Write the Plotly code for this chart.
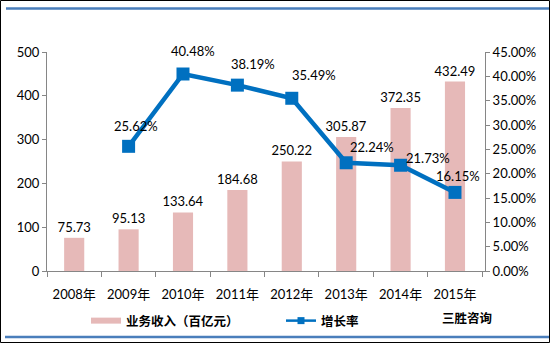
import plotly.graph_objects as go

years = ["2008年", "2009年", "2010年", "2011年", "2012年", "2013年", "2014年", "2015年"]
revenue = [75.73, 95.13, 133.64, 184.68, 250.22, 305.87, 372.35, 432.49]
growth_years = ["2009年", "2010年", "2011年", "2012年", "2013年", "2014年", "2015年"]
growth = [0.2562, 0.4048, 0.3819, 0.3549, 0.2224, 0.2173, 0.1615]

# label offsets (style) for the growth-rate labels, in px
label_dx = [7, 10, 16, 22, 26, 27, 3]
label_dy = [20, 23, 21, 23, 16, 7, 16]

W, H = 550, 343
L, R, T, B = 47, 65, 52, 72
pw, ph = W - L - R, H - T - B

def px_x(px):
    return (px - L) / pw

def px_y(py):
    return (H - B - py) / ph

FONT = "Lato, 'Noto Sans CJK SC', sans-serif"
CJK = "'Noto Sans CJK SC', sans-serif"
PINK = "#E6B9B8"
BLUE = "#0070C0"

fig = go.Figure()
fig.add_trace(go.Bar(
    x=years, y=revenue, name="业务收入（百亿元）", showlegend=False,
    marker=dict(color=PINK, line=dict(width=0)),
    text=[f"{v:.2f}" for v in revenue], textposition="outside",
    constraintext="none",
    textfont=dict(family=FONT, size=13, color="#000000"),
    cliponaxis=False, yaxis="y",
))
fig.add_trace(go.Scatter(
    x=growth_years, y=growth, name="增长率", mode="lines+markers", showlegend=False,
    line=dict(color=BLUE, width=4.5),
    marker=dict(symbol="square", size=13, color=BLUE),
    yaxis="y2", cliponaxis=False,
))
# legend-only entries (no data drawn)
fig.add_trace(go.Scatter(x=[None], y=[None], name="<b>业务收入（百亿元）</b>", mode="lines",
                         line=dict(color=PINK, width=6), yaxis="y"))
fig.add_trace(go.Scatter(x=[None], y=[None], name="<b>增长率</b>", mode="lines+markers",
                         line=dict(color=BLUE, width=2.5),
                         marker=dict(symbol="square", size=7, color=BLUE), yaxis="y2"))

for i, (x, g) in enumerate(zip(growth_years, growth)):
    fig.add_annotation(x=x, y=g, xref="x", yref="y2", text=f"{g*100:.2f}%",
                       showarrow=False, xshift=label_dx[i], yshift=label_dy[i],
                       font=dict(family=FONT, size=13, color="#000000"))

fig.add_annotation(x=px_x(467), y=px_y(317), xref="paper", yref="paper",
                   xanchor="center", yanchor="middle",
                   text="<b>三胜咨询</b>", showarrow=False,
                   font=dict(family=CJK, size=12.5, color="#000000"))

shapes = [
    dict(type="rect", xref="paper", yref="paper", x0=px_x(0.5), x1=px_x(549.5),
         y0=px_y(0.5), y1=px_y(342.5), line=dict(color="#000000", width=1), layer="above"),
    dict(type="line", xref="paper", yref="paper", x0=px_x(6), x1=px_x(549),
         y0=px_y(8.5), y1=px_y(8.5), line=dict(color="#4A7EBB", width=2.5)),
    dict(type="line", xref="paper", yref="paper", x0=px_x(5), x1=px_x(549),
         y0=px_y(337), y1=px_y(337), line=dict(color="#4A7EBB", width=2.5)),
]

fig.update_layout(
    width=W, height=H, margin=dict(l=L, r=R, t=T, b=B, pad=0, autoexpand=False),
    paper_bgcolor="#FFFFFF", plot_bgcolor="#FFFFFF",
    bargap=0.63, shapes=shapes,
    font=dict(family=FONT, size=13, color="#000000"),
    xaxis=dict(type="category", showline=True, linecolor="#868686", linewidth=1,
               ticks="outside", tickson="boundaries", ticklen=5, tickcolor="#868686",
               ticklabelstandoff=11, automargin=False,
               showgrid=False, tickfont=dict(family=FONT, size=13)),
    yaxis=dict(range=[0, 500], dtick=100, showline=True, linecolor="#868686",
               ticks="outside", ticklen=4, tickcolor="#868686", showgrid=False,
               zeroline=False, automargin=False, tickfont=dict(family=FONT, size=13)),
    yaxis2=dict(range=[0, 0.45], dtick=0.05, tickformat=".2%", overlaying="y",
                side="right", showline=True, linecolor="#868686", ticks="outside",
                ticklen=4, tickcolor="#868686", showgrid=False, zeroline=False,
                automargin=False, tickfont=dict(family=FONT, size=13)),
    legend=dict(orientation="h", x=px_x(86), y=px_y(321), xanchor="left", yanchor="middle",
                font=dict(family=CJK, size=12.5), bgcolor="rgba(0,0,0,0)",
                entrywidth=150, traceorder="normal", itemwidth=30),
)

fig.write_html("out.html")
